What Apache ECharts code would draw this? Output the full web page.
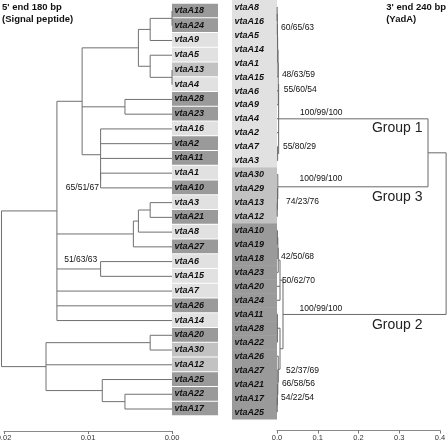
<!DOCTYPE html>
<html><head><meta charset="utf-8">
<script src="https://cdn.jsdelivr.net/npm/echarts@6/dist/echarts.min.js"></script>
<style>html,body{margin:0;padding:0;background:#fff}#c{width:448px;height:441px}</style>
</head><body><div id="c"></div>
<script>
// ---------- DATA ----------
// Left panel (5' end 180 bp, signal peptide): leaves top to bottom and shading class (0 light, 1 medium, 2 dark)
const leftLeaves = ['vtaA18','vtaA24','vtaA9','vtaA5','vtaA13','vtaA4','vtaA28','vtaA23','vtaA16','vtaA2','vtaA11','vtaA1','vtaA10','vtaA3','vtaA21','vtaA8','vtaA27','vtaA6','vtaA15','vtaA7','vtaA26','vtaA14','vtaA20','vtaA30','vtaA12','vtaA25','vtaA22','vtaA17'];
const leftShade = [2,2,0,0,1,0,2,2,0,2,2,0,2,0,2,0,2,0,0,0,2,0,2,1,1,2,2,2];
// Left tree: [node distance, ...children]
const leftTree = [0.0203,
  [0.0137,
    [0.0107,
      [0.0040, [0.0026, [0, 'vtaA18', 'vtaA24'], 'vtaA9'], [0.0026, 'vtaA5', [0, 'vtaA13', 'vtaA4']]],
      [0.0056, 'vtaA28', 'vtaA23'],
      [0.0085, 'vtaA16', 'vtaA2', 'vtaA11', [0.0085, 'vtaA1', 'vtaA10']]],
    [0.0046, [0.0040, [0.0026, 'vtaA3', 'vtaA21'], 'vtaA8'], 'vtaA27'],
    [0.0085, 'vtaA6', 'vtaA15'],
    'vtaA7', 'vtaA26', 'vtaA14'],
  [0.0150, [0.0026, 'vtaA20', 'vtaA30'], 'vtaA12', [0.0083, 'vtaA25', [0.0056, 'vtaA22', 'vtaA17']]]
];
const leftSupportText = ['65/51/67', '51/63/63'];
const leftSupportDist = [0.0087, 0.0089];
const leftSupportRow = [12.0, 16.9];

// Right panel (3' end 240 bp, YadA)
const rightLeaves = ['vtaA8','vtaA16','vtaA5','vtaA14','vtaA1','vtaA15','vtaA6','vtaA9','vtaA4','vtaA2','vtaA7','vtaA3','vtaA30','vtaA29','vtaA13','vtaA12','vtaA10','vtaA19','vtaA18','vtaA23','vtaA20','vtaA24','vtaA11','vtaA28','vtaA22','vtaA26','vtaA27','vtaA21','vtaA17','vtaA25'];
const rightShade = [0,0,0,0,0,0,0,0,0,0,0,0,1,1,1,1,2,2,2,2,2,2,2,2,2,2,2,2,2,2];
const rightTree = [0.415,
  [0.3706,
    [0.004,
      [0.003, [0.0025, [0.0016, [0.0012, [0.0008, [0.0004, 'vtaA8', 'vtaA16'], 'vtaA5'], 'vtaA14'], 'vtaA1'], 'vtaA15'], 'vtaA6', 'vtaA9'],
      'vtaA4', 'vtaA2', [0.0015, 'vtaA7', 'vtaA3']],
    [0.002, 'vtaA30', [0.0012, 'vtaA29', [0.0006, 'vtaA13', 'vtaA12']]]],
  [0.0147,
    [0.0074, [0.003, [0.002, [0.001, 'vtaA10', 'vtaA19'], 'vtaA18'], 'vtaA23'], 'vtaA20', 'vtaA24'],
    [0.0074, [0.001, 'vtaA11', 'vtaA28', 'vtaA22'], [0.003, 'vtaA26', [0.002, 'vtaA27', [0.001, 'vtaA21', [0.0005, 'vtaA17', 'vtaA25']]]]]]
];
const rightSupportText = ['60/65/63','48/63/59','55/60/54','100/99/100','55/80/29','100/99/100','74/23/76','42/50/68','50/62/70','100/99/100','52/37/69','66/58/56','54/22/54'];
const rightSupportDist = [0.0098,0.0120,0.0165,0.0565,0.0145,0.0555,0.0220,0.0098,0.0120,0.0555,0.0220,0.0120,0.0098];
const rightSupportRow = [1.5,4.87,5.94,7.6,10.0,12.3,13.95,17.9,19.6,21.6,26.05,27.0,28.0];
const groupText = ['Group 1','Group 3','Group 2'];
const groupDist = [0.233,0.233,0.233];
const groupRow = [8.7,13.6,22.8];

const leftTicks = [0, 0.01, 0.02];
const rightTicks = [0, 0.1, 0.2, 0.3, 0.4];

// ---------- BUILD ----------
const shadeColors = ['#e1e1e1', '#c2c2c2', '#9a9a9a'];
const FONT = "'Liberation Sans', Arial, sans-serif";

function treeSegments(tree, leaves) {
  const idx = {}; leaves.forEach((n, i) => idx[n] = i);
  const segs = [];
  function walk(node) {
    if (typeof node === 'string') return { x: 0, y: idx[node] };
    const d = node[0];
    const ch = node.slice(1).map(walk);
    const y0 = ch[0].y, y1 = ch[ch.length - 1].y;
    segs.push([d, y0, d, y1]);
    ch.forEach(c => segs.push([d, c.y, c.x, c.y]));
    return { x: d, y: (y0 + y1) / 2 };
  }
  walk(tree);
  return segs;
}

function lineSeries(gi, segs, color) {
  return {
    type: 'custom', xAxisIndex: gi, yAxisIndex: gi, clip: false, silent: true,
    data: segs,
    renderItem: (p, api) => {
      const a = api.coord([api.value(0), api.value(1)]);
      const b = api.coord([api.value(2), api.value(3)]);
      return { type: 'line', shape: { x1: a[0], y1: a[1], x2: b[0], y2: b[1] }, style: { stroke: color, lineWidth: 1 } };
    }
  };
}

function boxSeries(gi, leaves, shades, dx, w, gap) {
  return {
    type: 'custom', xAxisIndex: gi, yAxisIndex: gi, clip: false, silent: true,
    data: leaves.map((n, i) => [0, i, shades[i]]),
    renderItem: (p, api) => {
      const c = api.coord([0, api.value(1)]);
      const h = api.size([0, 1])[1];
      return { type: 'group', children: [
        { type: 'rect', shape: { x: c[0] + dx, y: c[1] - h / 2, width: w, height: h - gap },
          style: { fill: shadeColors[api.value(2)] } },
        { type: 'text', style: { text: leaves[p.dataIndex], x: c[0] + dx + 2.5, y: c[1] - gap / 2,
          verticalAlign: 'middle', align: 'left', fontStyle: 'italic', fontWeight: 'bold',
          fontSize: 9, fontFamily: FONT, fill: '#111' } }
      ] };
    }
  };
}

function textSeries(gi, texts, dists, rows, align, size, color, weight) {
  return {
    type: 'custom', xAxisIndex: gi, yAxisIndex: gi, clip: false, silent: true,
    data: texts.map((t, i) => [dists[i], rows[i]]),
    renderItem: (p, api) => {
      const c = api.coord([api.value(0), api.value(1)]);
      return { type: 'text', style: { text: texts[p.dataIndex], x: c[0], y: c[1], align: align,
        verticalAlign: 'middle', fontSize: size, fontFamily: FONT, fill: color, fontWeight: weight || 'normal' } };
    }
  };
}

function axisCommon(min, max, interval, inverse, offset, digits) {
  return {
    type: 'value', min: min, max: max, interval: interval, inverse: inverse, position: 'bottom', offset: offset,
    axisLine: { show: true, onZero: false, lineStyle: { color: '#8a8a8a', width: 1 } },
    axisTick: { show: true, length: 3, lineStyle: { color: '#777' } },
    splitLine: { show: false },
    axisLabel: { fontSize: 7.5, color: '#333', fontFamily: FONT, margin: 3, formatter: v => v.toFixed(digits) }
  };
}

const chart = echarts.init(document.getElementById('c'), null, { renderer: 'canvas' });
chart.setOption({
  animation: false,
  backgroundColor: '#fff',
  grid: [
    { left: 4, width: 168, top: 11, height: 398, outerBoundsMode: 'none', containLabel: false },
    { left: 277, width: 163, top: 7, height: 405, outerBoundsMode: 'none', containLabel: false }
  ],
  xAxis: [
    axisCommon(leftTicks[0], leftTicks[leftTicks.length - 1], leftTicks[1] - leftTicks[0], true, 22, 2),
    Object.assign(axisCommon(rightTicks[0], rightTicks[rightTicks.length - 1], rightTicks[1] - rightTicks[0], false, 18.5, 1), { gridIndex: 1 })
  ],
  yAxis: [
    { type: 'value', min: 0, max: leftLeaves.length - 1, inverse: true, show: false },
    { type: 'value', gridIndex: 1, min: 0, max: rightLeaves.length - 1, inverse: true, show: false }
  ],
  graphic: [
    { type: 'text', left: 2, top: 1, style: { text: "5' end 180 bp\n(Signal peptide)", fontSize: 9.5, fontWeight: 'bold', fontFamily: FONT, fill: '#111', lineHeight: 12 } },
    { type: 'text', right: 2, top: 1, style: { text: "3' end 240 bp\n(YadA)", align: 'right', fontSize: 9.5, fontWeight: 'bold', fontFamily: FONT, fill: '#111', lineHeight: 12 } }
  ],
  series: [
    boxSeries(0, leftLeaves, leftShade, 0, 46, 1),
    boxSeries(1, rightLeaves, rightShade, -45, 45, -0.5),
    lineSeries(0, treeSegments(leftTree, leftLeaves), '#707070'),
    lineSeries(1, treeSegments(rightTree, rightLeaves), '#6a6a6a'),
    textSeries(0, leftSupportText, leftSupportDist, leftSupportRow, 'right', 8.5, '#111'),
    textSeries(1, rightSupportText, rightSupportDist, rightSupportRow, 'left', 8.5, '#111'),
    textSeries(1, groupText, groupDist, groupRow, 'left', 14, '#222')
  ]
});
</script></body></html>
